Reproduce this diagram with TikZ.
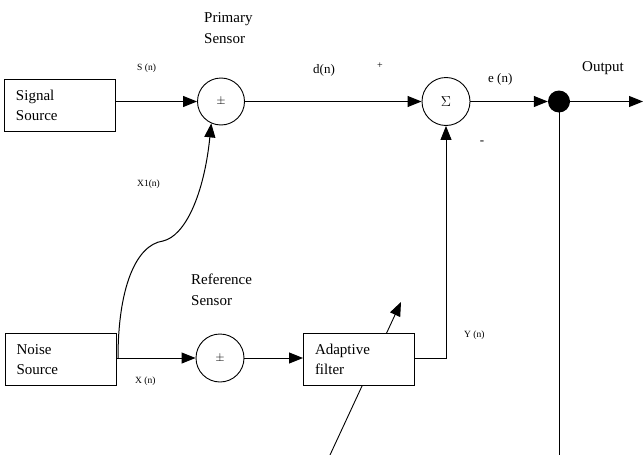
\documentclass[tikz,border=0pt]{standalone}
\usepackage{fontspec}
\setmainfont{Liberation Serif}
\usetikzlibrary{arrows.meta}
\begin{document}
\begin{tikzpicture}[x=1pt,y=-1pt,
  box/.style={draw,line width=1pt,fill=white,minimum width=111pt,minimum height=52pt,text width=88pt,align=left,inner sep=0pt,font=\fontsize{15}{20}\selectfont},
  junc/.style={draw,circle,line width=0.9pt,fill=white,inner sep=0pt},
  lbl/.style={font=\fontsize{15}{21}\selectfont,align=left,inner sep=0pt},
  tiny/.style={font=\fontsize{9.5}{11}\selectfont,inner sep=0pt},
  mid/.style={font=\fontsize{13}{15}\selectfont,inner sep=0pt},
  arr/.style={line width=1pt,-{Triangle[length=14pt,width=11pt]}},
  ln/.style={line width=1pt}]
\useasboundingbox (0,0) rectangle (643,455);
% diagonal adaptation arrow (behind the filter box)
\coordinate (da) at (330,455);
\coordinate (db) at (401,302);
\draw[line width=0.9pt,-{Triangle[length=14pt,width=11pt]}] (da) -- (db);
% blocks
\node[box] (sig) at (60,105.5) {Signal\\Source};
\node[box] (noise) at (60.5,359.5) {Noise\\Source};
\node[box] (adapt) at (359,359.5) {Adaptive\\filter};
\node[junc,minimum size=47pt,font=\fontsize{12}{14}\selectfont] (ps) at (221,101.5) {$\pm$};
\node[junc,minimum size=48pt,font=\fontsize{12}{14}\selectfont] (rs) at (220,358) {$\pm$};
\node[junc,minimum size=48pt,font=\fontsize{14}{16}\selectfont] (sum) at (446,101.5) {$\Sigma$};
\node[circle,fill=black,minimum size=22pt,inner sep=0pt] (dot) at (559,101.5) {};
\coordinate (outend) at (643,101.5);
\coordinate (downend) at (559,455);
\coordinate (tap) at (118,358);
\coordinate (bend) at (163,241);
% connectors
\draw[arr] (sig.east |- ps.west) -- (ps.west);
\draw[arr] (ps.east) -- (sum.west);
\draw[arr] (sum.east) -- (dot.west);
\draw[arr] (dot.east) -- (outend);
\draw[ln] (dot.center) -- (downend);
\draw[arr] (noise.east |- rs.west) -- (rs.west);
\draw[arr] (rs.east) -- (rs.east -| adapt.west);
\draw[arr] (adapt.east |- rs.east) -| (sum.south);
\draw[ln,-{Triangle[length=14pt,width=11pt]}] (tap) .. controls (118,290) and (135,245) .. (bend)
  .. controls (185,236) and (204,195) .. (ps.-114);
% labels
\node[lbl,anchor=north west] (pslbl) at (204,12) {Primary\\Sensor};
\node[lbl,anchor=north west] (rslbl) at (191,274) {Reference\\Sensor};
\node[lbl,anchor=base west] (outlbl) at (582,71) {Output};
\node[tiny,anchor=base west] (sn) at (137,70) {S (n)};
\node[mid,anchor=base west] (dn) at (313,73) {d(n)};
\node[font=\fontsize{10}{10}\selectfont,inner sep=0pt] (plus) at (380,66) {+};
\node[mid,anchor=base west] (en) at (488,82) {e (n)};
\node[mid] (minus) at (482,143) {-};
\node[tiny,anchor=west] (x1n) at (137,184) {X1(n)};
\node[tiny,anchor=west] (xn) at (135,381) {X (n)};
\node[tiny,anchor=west] (yn) at (464,335) {Y (n)};
\end{tikzpicture}
\end{document}
